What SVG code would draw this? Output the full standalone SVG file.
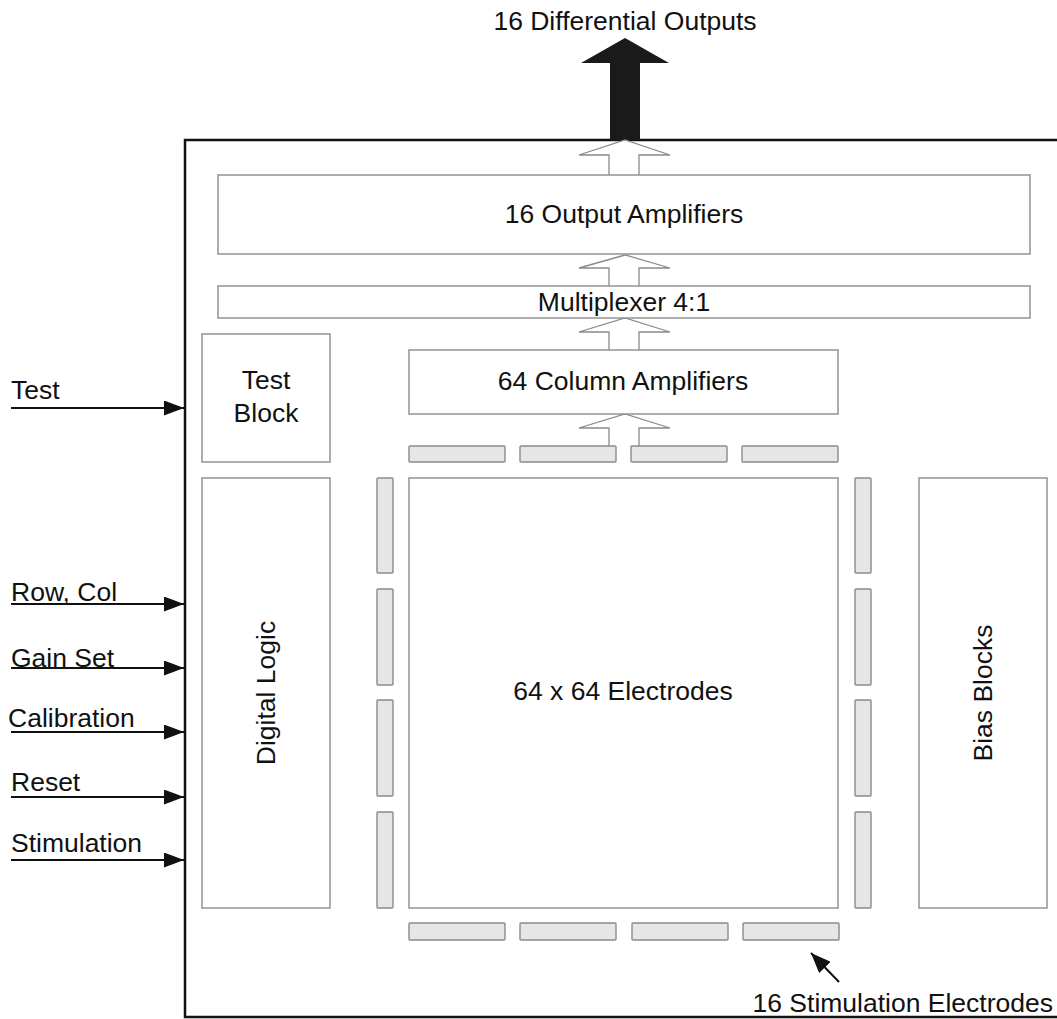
<svg xmlns="http://www.w3.org/2000/svg" width="1057" height="1019" viewBox="0 0 1057 1019">
<style>
text{font-family:"Liberation Sans",Arial,sans-serif;font-size:26.5px;fill:#111}
.box{fill:#fff;stroke:#8a8a8a;stroke-width:1.4}
.bar{fill:#e6e6e6;stroke:#8a8a8a;stroke-width:1.4}
.hol{fill:#fff;stroke:#8a8a8a;stroke-width:1.3}
.in{stroke:#111;stroke-width:2;fill:none}
</style>
<defs>
<marker id="ah" markerWidth="20" markerHeight="15" refX="20" refY="7.5" orient="auto" markerUnits="userSpaceOnUse">
<path d="M0,0 L20,7.5 L0,15 Z" fill="#111"/>
</marker>
<marker id="ah2" markerWidth="20" markerHeight="16" refX="20" refY="8" orient="auto" markerUnits="userSpaceOnUse">
<path d="M0,0 L20,8 L0,16 Z" fill="#111"/>
</marker>
</defs>
<rect width="1057" height="1019" fill="#fff"/>
<g id="chip">
<rect x="185" y="140" width="880" height="877" fill="none" stroke="#111" stroke-width="2.5"/>
</g>
<g id="connectors">
<path d="M610,140 L610,63 L581,63 L625,38 L669,63 L640,63 L640,140 Z" fill="#1a1a1a"/>
<path class="hol" d="M609,175 L609,155 L579,155 L625,140 L670,155 L639,155 L639,175"/>
<path class="hol" d="M609,286 L609,268 L579,268 L625,255 L670,268 L639,268 L639,286"/>
<path class="hol" d="M609,350 L609,332 L579,332 L625,318 L670,332 L639,332 L639,350"/>
<path class="hol" d="M609,446 L609,428 L579,428 L625,414 L670,428 L639,428 L639,446"/>
<line class="in" x1="11" y1="408" x2="184" y2="408" marker-end="url(#ah)"/>
<line class="in" x1="11" y1="604" x2="184" y2="604" marker-end="url(#ah)"/>
<line class="in" x1="11" y1="668" x2="184" y2="668" marker-end="url(#ah)"/>
<line class="in" x1="11" y1="732" x2="184" y2="732" marker-end="url(#ah)"/>
<line class="in" x1="11" y1="797" x2="184" y2="797" marker-end="url(#ah)"/>
<line class="in" x1="11" y1="860" x2="184" y2="860" marker-end="url(#ah)"/>
<line x1="839" y1="982" x2="811" y2="953" stroke="#111" stroke-width="2" marker-end="url(#ah2)"/>
</g>
<text x="625" y="30" text-anchor="middle">16 Differential Outputs</text>
<g id="output-amps"><rect class="box" x="218" y="175" width="812" height="79"/><text x="624" y="223" text-anchor="middle">16 Output Amplifiers</text></g>
<g id="mux"><rect class="box" x="218" y="286" width="812" height="32"/><text x="624" y="311" text-anchor="middle">Multiplexer 4:1</text></g>
<g id="col-amps"><rect class="box" x="409" y="350" width="429" height="64"/><text x="623" y="390" text-anchor="middle">64 Column Amplifiers</text></g>
<g id="test-block"><rect class="box" x="202" y="334" width="128" height="128"/><text x="266" y="389" text-anchor="middle">Test</text><text x="266" y="422" text-anchor="middle">Block</text></g>
<g id="digital-logic"><rect class="box" x="202" y="478" width="128" height="430"/><text transform="translate(275,693) rotate(-90)" text-anchor="middle">Digital Logic</text></g>
<g id="electrodes"><rect class="box" x="409" y="478" width="429" height="430"/><text x="623" y="700" text-anchor="middle">64 x 64 Electrodes</text></g>
<g id="bias-blocks"><rect class="box" x="919" y="478" width="128" height="430"/><text transform="translate(992,693) rotate(-90)" text-anchor="middle">Bias Blocks</text></g>
<g id="stim-electrodes">
<rect class="bar" x="409" y="446" width="96" height="16" rx="1"/>
<rect class="bar" x="520" y="446" width="96" height="16" rx="1"/>
<rect class="bar" x="631" y="446" width="96" height="16" rx="1"/>
<rect class="bar" x="742" y="446" width="96" height="16" rx="1"/>
<rect class="bar" x="409" y="923" width="96" height="17" rx="1"/>
<rect class="bar" x="520" y="923" width="96" height="17" rx="1"/>
<rect class="bar" x="632" y="923" width="96" height="17" rx="1"/>
<rect class="bar" x="743" y="923" width="96" height="17" rx="1"/>
<rect class="bar" x="377" y="478" width="16" height="95" rx="1"/>
<rect class="bar" x="377" y="589" width="16" height="96" rx="1"/>
<rect class="bar" x="377" y="700" width="16" height="96" rx="1"/>
<rect class="bar" x="377" y="812" width="16" height="96" rx="1"/>
<rect class="bar" x="855" y="478" width="16" height="95" rx="1"/>
<rect class="bar" x="855" y="589" width="16" height="96" rx="1"/>
<rect class="bar" x="855" y="700" width="16" height="96" rx="1"/>
<rect class="bar" x="855" y="812" width="16" height="96" rx="1"/>
</g>
<g id="labels">
<text x="11" y="399">Test</text>
<text x="11" y="601">Row, Col</text>
<text x="11" y="667">Gain Set</text>
<text x="8" y="727">Calibration</text>
<text x="11" y="791">Reset</text>
<text x="11" y="852">Stimulation</text>
<text x="1053" y="1012" text-anchor="end">16 Stimulation Electrodes</text>
</g>
</svg>
